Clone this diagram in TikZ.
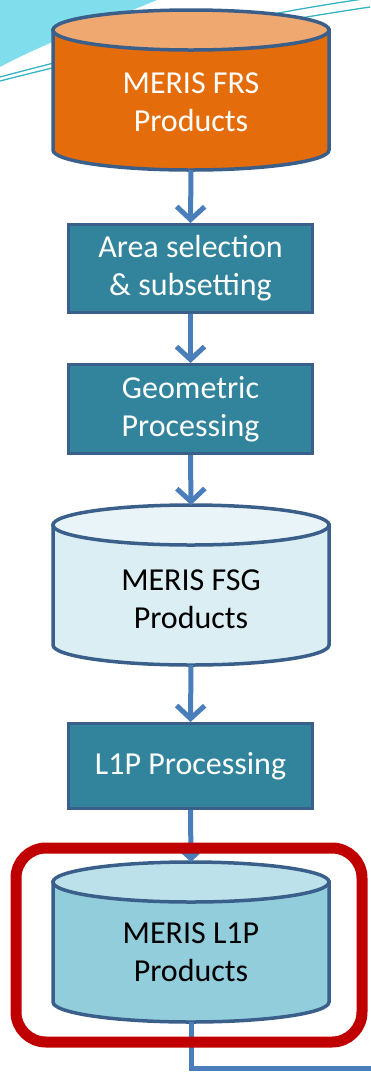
\documentclass[tikz,border=0pt]{standalone}
\usepackage{fontspec}
\setmainfont{Carlito}
\usetikzlibrary{arrows.meta}
\definecolor{bord}{HTML}{3A5F8B}
\definecolor{fleche}{HTML}{4A7EBB}
\definecolor{boite}{HTML}{31849B}
\definecolor{orange}{HTML}{E46C0A}
\definecolor{orangeclair}{HTML}{EFA86F}
\definecolor{fsgcorps}{HTML}{DAEEF3}
\definecolor{fsghaut}{HTML}{E9F4F8}
\definecolor{lunpcorps}{HTML}{92CDDC}
\definecolor{lunphaut}{HTML}{BCE1EA}
\definecolor{rouge}{HTML}{C00000}
\definecolor{ciel}{HTML}{80DDEB}
\definecolor{filet}{HTML}{35B4C4}
\tikzset{bordcyl/.style={draw=bord, line width=3.5pt},
         texte/.style={align=center, font=\fontsize{32}{38}\selectfont},
         traitement/.style={texte, draw=bord, line width=3pt, fill=boite, text=white,
                         minimum width=244pt},
         fil/.style={line width=5pt, color=fleche},
         fleche/.style={fil, -{Straight Barb[length=13pt,width=28pt]}}}
% Cylindre: #1 nom, #2 haut, #3 corps, #4 couvercle
\newcommand{\baril}[4]{%
  \coordinate (#1-haut) at (191,#2);
  \coordinate (#1-bas) at (191,{#2+160});
  \draw[bordcyl, fill=#3] (53,{#2+20}) -- (53,{#2+140})
        arc[start angle=180, end angle=360, x radius=138pt, y radius=20pt]
        -- (329,{#2+20}) -- cycle;
  \draw[bordcyl, fill=#4] (191,{#2+20}) ellipse [x radius=138pt, y radius=20pt];}

\begin{document}
\begin{tikzpicture}[x=1pt,y=-1pt]
\useasboundingbox (0,0) rectangle (370,1072);
% Decor du fond:
\fill[ciel] (0,0) -- (157,0) .. controls (110,20) and (50,40) .. (0,67) -- cycle;
\draw[filet, line width=1.3pt] (0,77) .. controls (120,45) and (250,15) .. (370,-2);
\draw[filet, line width=1.3pt] (0,81) .. controls (120,50) and (250,25) .. (370,7);

% Produits:
\baril{frs}{10}{orange}{orangeclair}
\node[texte, text=white] (frs) at (191,102) {MERIS FRS\\Products};
\baril{fsg}{505}{fsgcorps}{fsghaut}
\node[texte] (fsg) at (191,599) {MERIS FSG\\Products};
\baril{l1p}{862}{lunpcorps}{lunphaut}
\node[texte] (l1p) at (191,952) {MERIS L1P\\Products};

% Traitements:
\node[traitement, minimum height=88pt] (zone) at (190.5,268.5) {Area selection\\\& subsetting};
\node[traitement, minimum height=89pt] (geom) at (190.5,409) {Geometric\\Processing};
\node[traitement, minimum height=85pt] (lunp) at (190.5,766) {L1P Processing};

% Fleches:
\draw[fleche] (frs-bas) -- (zone.north);
\draw[fleche] (zone.south) -- (geom.north);
\draw[fleche] (geom.south) -- (fsg-haut);
\draw[fleche] (fsg-bas) -- (lunp.north);
\draw[fleche] (lunp.south) -- (l1p-haut);
\coordinate (sortie) at (373,1068);
\draw[fil] (l1p-bas) |- (sortie);

% Cadre rouge:
\draw[rouge, line width=11pt, rounded corners=30pt] (16,848) rectangle (362,1042);
\end{tikzpicture}
\end{document}
